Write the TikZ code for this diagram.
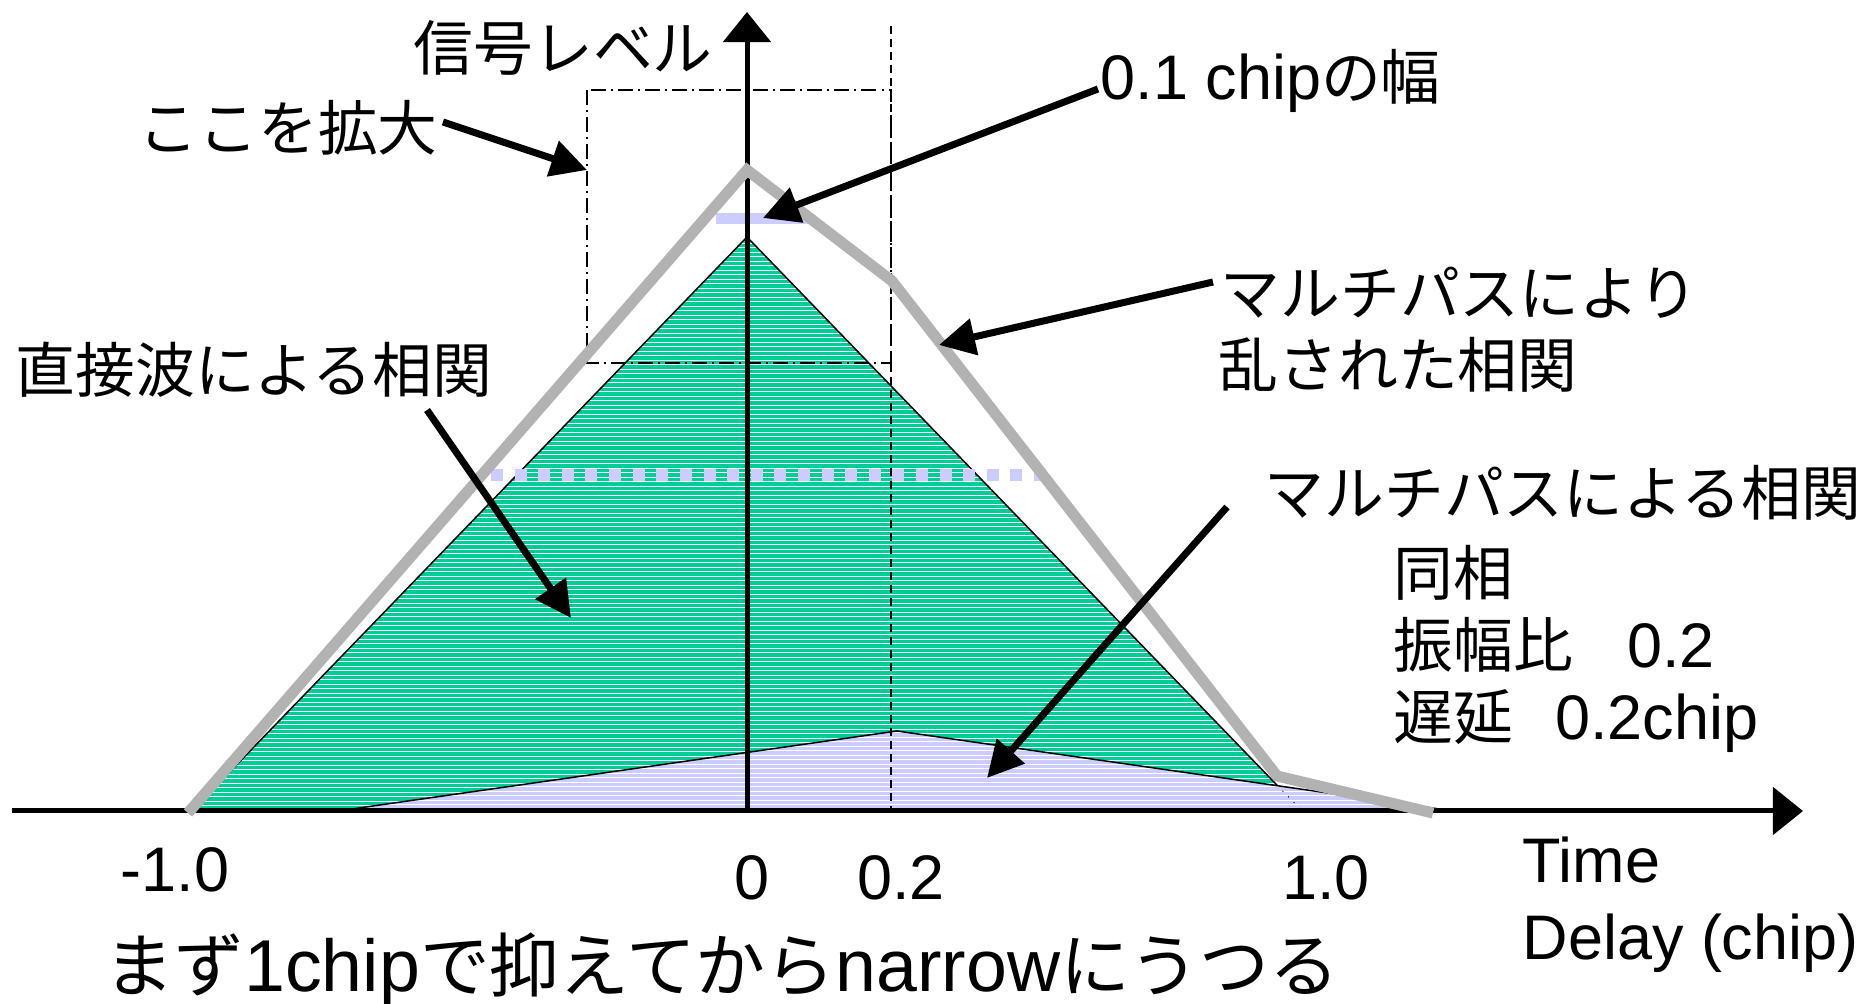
\documentclass[tikz,border=0pt]{standalone}
\usepackage{fontspec}
\setmainfont{Liberation Sans}
\newfontfamily\jpfont[Scale=0.95]{Noto Sans CJK JP}
\usetikzlibrary{arrows.meta}
\definecolor{grn}{RGB}{0,204,153}
\definecolor{lav}{RGB}{204,204,255}
\definecolor{gry}{RGB}{178,178,178}
\newcommand\J[1]{{\jpfont #1}}
\begin{document}
\begin{tikzpicture}[x=0.01cm,y=-0.01cm,
  lbl/.style={inner sep=0pt, anchor=base west, font=\fontsize{17.9pt}{20pt}\selectfont},
  lblc/.style={inner sep=0pt, anchor=base, font=\fontsize{17.9pt}{20pt}\selectfont},
  arr/.style={line width=0.07cm, -{Triangle[length=0.36cm,width=0.36cm]}},
  axisline/.style={line width=0.05cm, -{Triangle[length=0.30cm,width=0.47cm]}},
  edge/.style={line width=0.015cm, line join=miter},
  dashv/.style={line width=0.015cm, dash pattern=on 0.08cm off 0.05cm},
  dashdotbox/.style={line width=0.015cm, dash pattern=on 0.15cm off 0.05cm on 0.02cm off 0.05cm},
  graycurve/.style={gry, line width=0.11cm, line join=miter}]
\useasboundingbox[fill=white] (0,0) rectangle (1868,1004);

% coordinates of the curves
\coordinate (gL) at (192,811);
\coordinate (gT) at (747,237);
\coordinate (gR) at (1302,811);
\coordinate (lL) at (338,811);
\coordinate (lT) at (897,731);
\coordinate (lR) at (1453,811);

% direct wave correlation (green, hatched)
\begin{scope}
  \clip (gL) -- (gT) -- (gR) -- cycle;
  \fill[grn] (gL) -- (gT) -- (gR) -- cycle;
  \foreach \k in {0,...,130} \draw[white, line width=0.01cm] (150,{239+\k*4.5}) -- (1400,{239+\k*4.5});
\end{scope}
\draw[edge] (gL) -- (gT) -- (gR);

% multipath correlation (lavender, hatched)
\begin{scope}
  \clip (lL) -- (lT) -- (lR) -- cycle;
  \fill[lav] (lL) -- (lT) -- (lR) -- cycle;
  \foreach \k in {0,...,20} \draw[white, line width=0.01cm] (300,{733+\k*4.5}) -- (1500,{733+\k*4.5});
\end{scope}
\draw[edge] (lL) -- (lT) -- (lR);
\coordinate (gdA) at (1277,785);
\draw[line width=0.01cm, dotted] (gdA) -- (gR);

% zoom box and delay line
\coordinate (bx1) at (587,90);
\coordinate (bx2) at (891,363);
\draw[dashdotbox] (bx1) rectangle (bx2);
\coordinate (dlT) at (891,26);
\coordinate (dlB) at (891,811);
\draw[dashv] (dlT) -- (dlB);

% 0.1 chip width bar and dotted lavender line
\coordinate (barL) at (716,218.5);
\coordinate (barR) at (811,218.5);
\draw[lav, line width=0.11cm] (barL) -- (barR);
\coordinate (dotL) at (491,475);
\coordinate (dotR) at (1049,475);
\draw[lav, line width=0.12cm, dash pattern=on 0.12cm off 0.116cm] (dotL) -- (dotR);

% axes
\coordinate (xA) at (12,811);
\coordinate (xB) at (1803,811);
\coordinate (yA) at (747,811);
\coordinate (yB) at (747,12);
\draw[axisline] (xA) -- (xB);
\draw[axisline] (yA) -- (yB);

% disturbed correlation (gray)
\coordinate (c1) at (188,813);
\coordinate (c2) at (747,170);
\coordinate (c3) at (892,281);
\coordinate (c4) at (1277,776);
\coordinate (c5) at (1433,813);
\draw[graycurve] (c1) -- (c2) -- (c3) -- (c4) -- (c5);

% labels
\node[lbl] (ylab) at (413,71) {\J{信号レベル}};
\node[lbl] (zoomlab) at (138,151) {\J{ここを拡大}};
\node[lbl] (direct) at (15,393) {\J{直接波による相関}};
\node[lbl] (chipw) at (1100,100) {0.1 chip\J{の幅}};
\node[lbl] (dist1) at (1220,316) {\J{マルチパスにより}};
\node[lbl] (dist2) at (1218,388) {\J{乱された相関}};
\node[lbl] (mp1) at (1264,516) {\J{マルチパスによる相関}};
\node[lbl] (mp2) at (1393,596) {\J{同相}};
\node[lbl] (mp3) at (1393,668) {\J{振幅比}\hspace{0.54cm}0.2};
\node[lbl] (mp4) at (1393,740) {\J{遅延}\hspace{0.42cm}0.2chip};
\node[lbl] (tm1) at (120,892) {-1.0};
\node[lblc] (t0) at (752,900) {0};
\node[lblc] (t02) at (901,900) {0.2};
\node[lblc] (t1) at (1326,900) {1.0};
\node[lbl] (time) at (1522,883) {Time};
\node[lbl] (delay) at (1522,960) {Delay (chip)};
\node[lbl, font=\fontsize{20.9pt}{24pt}\selectfont] (note) at (104,992) {\J{まず}1chip\J{で抑えてから}narrow\J{にうつる}};

% pointer arrows
\coordinate (a1s) at (443,122); \coordinate (a1e) at (587,170);
\coordinate (a2s) at (1098,89); \coordinate (a2e) at (763,218);
\coordinate (a3s) at (1213,282); \coordinate (a3e) at (939,345);
\coordinate (a4s) at (427,410); \coordinate (a4e) at (571,618);
\coordinate (a5s) at (1227,507); \coordinate (a5e) at (987,778);
\draw[arr] (a1s) -- (a1e);
\draw[arr] (a2s) -- (a2e);
\draw[arr] (a3s) -- (a3e);
\draw[arr] (a4s) -- (a4e);
\draw[arr] (a5s) -- (a5e);
\end{tikzpicture}
\end{document}
